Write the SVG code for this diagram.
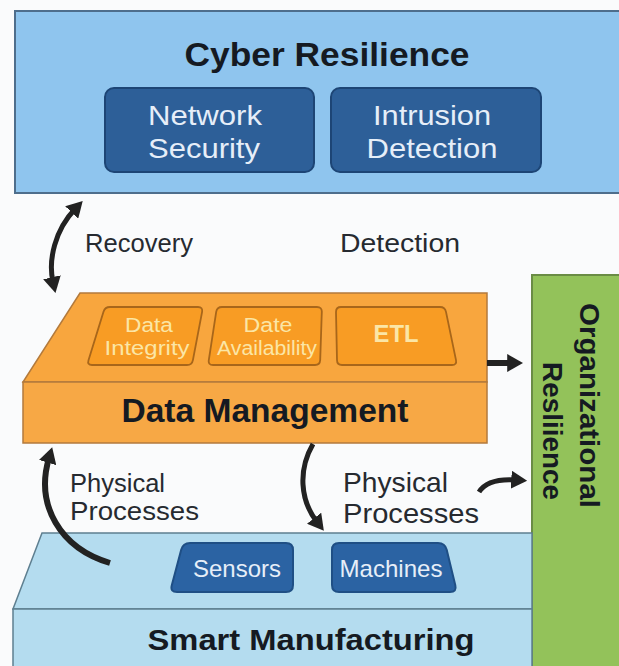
<svg xmlns="http://www.w3.org/2000/svg" width="619" height="666" viewBox="0 0 619 666">
<style>
text{font-family:"Liberation Sans",Arial,sans-serif}
.title{font-weight:bold;fill:#151a22}
.wl{fill:#e6eef8}
.tab{fill:#fbe6a6}
.otab{fill:#f89c24;stroke:#a8661a;stroke-width:1.8}
.btab{fill:#2b63a3;stroke:#1f4f85;stroke-width:2}
.lbl{fill:#262a30}
.conn{fill:none;stroke:#222;stroke-linecap:butt}
</style>
<defs>
<marker id="ah" viewBox="0 0 10 10" refX="3" refY="5" markerUnits="userSpaceOnUse" markerWidth="16" markerHeight="18" preserveAspectRatio="none" orient="auto-start-reverse">
<path d="M0,0 L10,5 L0,10 z" fill="#222"/>
</marker>
</defs>
<rect x="0" y="0" width="619" height="666" fill="#fafbfc"/>

<g id="cyber">
<rect x="15" y="11" width="620" height="182" fill="#8fc5ee" stroke="#4e6e8c" stroke-width="2"/>
<text class="title" x="327" y="66" font-size="33" text-anchor="middle" textLength="285" lengthAdjust="spacingAndGlyphs">Cyber Resilience</text>
</g>
<g id="netsec">
<rect x="105" y="88" width="209" height="84" rx="9" fill="#2d5f98" stroke="#1d4575" stroke-width="2"/>
<text class="wl" x="205" y="125" font-size="28" text-anchor="middle" textLength="114" lengthAdjust="spacingAndGlyphs">Network</text>
<text class="wl" x="204" y="158" font-size="28" text-anchor="middle" textLength="112" lengthAdjust="spacingAndGlyphs">Security</text>
</g>
<g id="intrusion">
<rect x="331" y="88" width="210" height="84" rx="9" fill="#2d5f98" stroke="#1d4575" stroke-width="2"/>
<text class="wl" x="432" y="125" font-size="28" text-anchor="middle" textLength="118" lengthAdjust="spacingAndGlyphs">Intrusion</text>
<text class="wl" x="432" y="158" font-size="28" text-anchor="middle" textLength="131" lengthAdjust="spacingAndGlyphs">Detection</text>
</g>

<g id="org">
<rect x="532" y="275" width="100" height="400" fill="#93c25a" stroke="#6a8c45" stroke-width="2"/>
<text class="title" transform="translate(580,303) rotate(90)" font-size="28" textLength="205" lengthAdjust="spacingAndGlyphs">Organizational</text>
<text class="title" transform="translate(543,362) rotate(90)" font-size="28" textLength="138" lengthAdjust="spacingAndGlyphs">Resliience</text>
</g>

<g id="datamgmt">
<polygon points="80,293 487,293 487,382 23,382" fill="#f8a63e" stroke="#b37a3c" stroke-width="1.5"/>
<rect x="23" y="382" width="464" height="61" fill="#f7a845" stroke="#b37a3c" stroke-width="1.5"/>
<text class="title" x="265" y="422" font-size="33" text-anchor="middle" textLength="287" lengthAdjust="spacingAndGlyphs">Data Management</text>
</g>
<g id="integrity">
<path class="otab" d="M110,307 L198,307 Q203,307 202.1,311.9 L192.9,360.1 Q192,365 187,365 L92,365 Q87,365 88.5,360.2 L103.5,311.8 Q105,307 110,307 Z"/>
<text class="tab" x="149" y="332" font-size="20" text-anchor="middle" textLength="48" lengthAdjust="spacingAndGlyphs">Data</text>
<text class="tab" x="147" y="355" font-size="20" text-anchor="middle" textLength="85" lengthAdjust="spacingAndGlyphs">Integrity</text>
</g>
<g id="availability">
<path class="otab" d="M222,307 L317,307 Q322,307 321.8,312 L320.2,360 Q320,365 315,365 L213,365 Q208,365 208.8,360.1 L216.2,311.9 Q217,307 222,307 Z"/>
<text class="tab" x="268" y="332" font-size="20" text-anchor="middle" textLength="49" lengthAdjust="spacingAndGlyphs">Date</text>
<text class="tab" x="267" y="355" font-size="20" text-anchor="middle" textLength="100" lengthAdjust="spacingAndGlyphs">Availability</text>
</g>
<g id="etl">
<path class="otab" d="M341,307 L440,307 Q445,307 446,311.9 L456,360.1 Q457,365 452,365 L342,365 Q337,365 337,360 L336,312 Q336,307 341,307 Z"/>
<text class="tab" x="396" y="342" font-size="23" font-weight="bold" text-anchor="middle" textLength="45" lengthAdjust="spacingAndGlyphs">ETL</text>
</g>

<g id="smart">
<polygon points="42,533 532,533 532,609 13,609" fill="#b4dcef" stroke="#5e7f90" stroke-width="1.5"/>
<rect x="13" y="609" width="519" height="70" fill="#b4dcef" stroke="#5e7f90" stroke-width="1.5"/>
<text class="title" x="311" y="650" font-size="30" text-anchor="middle" textLength="327" lengthAdjust="spacingAndGlyphs">Smart Manufacturing</text>
</g>
<g id="sensors">
<path class="btab" d="M190,543 L286,543 Q293,543 293,550 L293,585 Q293,592 286,592 L177,592 Q170,592 171.8,585.2 L181.2,549.8 Q183,543 190,543 Z"/>
<text class="wl" x="237" y="577" font-size="24" text-anchor="middle" textLength="88" lengthAdjust="spacingAndGlyphs">Sensors</text>
</g>
<g id="machines">
<path class="btab" d="M339,543 L438,543 Q445,543 446.7,549.8 L455.3,585.2 Q457,592 450,592 L339,592 Q332,592 332,585 L332,550 Q332,543 339,543 Z"/>
<text class="wl" x="391" y="577" font-size="24" text-anchor="middle" textLength="103" lengthAdjust="spacingAndGlyphs">Machines</text>
</g>

<g id="labels">
<text class="lbl" x="85" y="252" font-size="25" textLength="108" lengthAdjust="spacingAndGlyphs">Recovery</text>
<text class="lbl" x="340" y="252" font-size="26" textLength="120" lengthAdjust="spacingAndGlyphs">Detection</text>
<text class="lbl" x="70" y="492" font-size="26" textLength="95" lengthAdjust="spacingAndGlyphs">Physical</text>
<text class="lbl" x="70" y="520" font-size="26" textLength="129" lengthAdjust="spacingAndGlyphs">Processes</text>
<text class="lbl" x="343" y="492" font-size="28" textLength="105" lengthAdjust="spacingAndGlyphs">Physical</text>
<text class="lbl" x="343" y="523" font-size="28" textLength="136" lengthAdjust="spacingAndGlyphs">Processes</text>
</g>

<g id="connectors">
<path class="conn" d="M75,209 C55,230 48,260 53,282" stroke-width="5" marker-start="url(#ah)" marker-end="url(#ah)"/>
<path class="conn" d="M110,563 C60,548 35,505 49,458" stroke-width="6" marker-end="url(#ah)"/>
<path class="conn" d="M313,444 C298,470 300,500 317,522" stroke-width="5" marker-end="url(#ah)"/>
<path class="conn" d="M487,363 L512,363" stroke-width="6" marker-end="url(#ah)"/>
<path class="conn" d="M479,492 Q488,478 516,480" stroke-width="5" marker-end="url(#ah)"/>
</g>
</svg>
